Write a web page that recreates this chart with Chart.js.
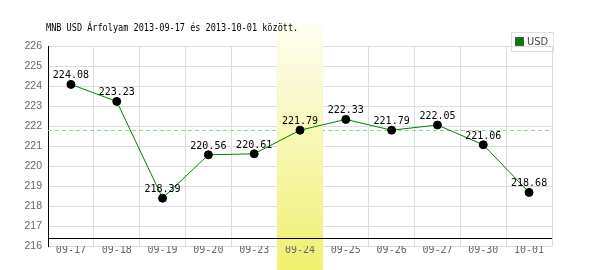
<!DOCTYPE html>
<html>
<head>
<meta charset="utf-8">
<script src="https://cdn.jsdelivr.net/npm/chart.js@4"></script>
<style>
  body { margin: 0; background: #fff; }
  #wrap { width: 600px; height: 270px; }
</style>
</head>
<body>
<div id="wrap"><canvas id="myChart" width="600" height="270"></canvas></div>
<script>
var days = ["09-17", "09-18", "09-19", "09-20", "09-23", "09-24", "09-25", "09-26", "09-27", "09-30", "10-01"];
var usdValues = [224.08, 223.23, 218.39, 220.56, 220.61, 221.79, 222.33, 221.79, 222.05, 221.06, 218.68];
var yTicks = [216, 217, 218, 219, 220, 221, 222, 223, 224, 225, 226];
var highlightDay = "09-24";
var refValue = 221.79;
var titleText = "MNB USD Árfolyam 2013-09-17 és 2013-10-01 között.";

var mono = "'DejaVu Sans Mono', monospace";

// band behind the highlighted day, dashed ref line, black x axis line
var extras = {
  id: "extras",
  beforeDatasetsDraw: function (chart) {
    var ctx = chart.ctx;
    var x = chart.scales.x, y = chart.scales.y;
    var area = chart.chartArea;
    var i = days.indexOf(highlightDay);
    var step = (area.right - area.left) / days.length;
    var x0 = x.getPixelForValue(i) - step / 2;

    ctx.save();
    var ry = y.getPixelForValue(refValue);
    ctx.strokeStyle = "#90d890";
    ctx.lineWidth = 1;
    ctx.setLineDash([4, 3]);
    ctx.beginPath();
    ctx.moveTo(area.left, Math.round(ry) + 0.5);
    ctx.lineTo(area.right, Math.round(ry) + 0.5);
    ctx.stroke();
    ctx.setLineDash([]);

    var g = ctx.createLinearGradient(0, 24, 0, 270);
    g.addColorStop(0, "#fefef2");
    g.addColorStop(1, "#f0f070");
    ctx.fillStyle = g;
    ctx.fillRect(x0, 24, step, 246);

    var by = Math.round(y.getPixelForValue(216.4)) + 0.5;
    ctx.strokeStyle = "#000";
    ctx.beginPath();
    ctx.moveTo(area.left, by);
    ctx.lineTo(area.right, by);
    ctx.stroke();
    ctx.restore();
  },
  afterDatasetsDraw: function (chart) {
    var ctx = chart.ctx;
    var meta = chart.getDatasetMeta(0);
    ctx.save();
    ctx.font = "10px " + mono;
    ctx.fillStyle = "#000";
    ctx.textAlign = "center";
    ctx.textBaseline = "alphabetic";
    meta.data.forEach(function (pt, k) {
      ctx.fillText(usdValues[k].toFixed(2), pt.x, pt.y - 6);
    });

    // title, squeezed a bit to match the narrow original font
    ctx.save();
    ctx.font = "10px " + mono;
    ctx.textAlign = "left";
    ctx.translate(46, 31);
    ctx.scale(0.855, 1);
    ctx.fillText(titleText, 0, 0);
    ctx.restore();

    // legend box
    ctx.strokeStyle = "#dddddd";
    ctx.lineWidth = 1;
    ctx.strokeRect(511.5, 32.5, 42, 19);
    ctx.fillStyle = "#008000";
    ctx.fillRect(516, 38, 7, 7);
    ctx.strokeStyle = "#555";
    ctx.strokeRect(515.5, 37.5, 8, 8);
    ctx.fillStyle = "#444";
    ctx.font = "11px 'Liberation Sans Narrow', 'DejaVu Sans Condensed', sans-serif";
    ctx.textAlign = "left";
    ctx.textBaseline = "middle";
    ctx.fillText("USD", 527, 42);
    ctx.restore();
  }
};

new Chart("myChart", {
  type: "line",
  data: {
    labels: days,
    datasets: [{
      label: "USD",
      data: usdValues,
      borderColor: "#008000",
      borderWidth: 1,
      pointBackgroundColor: "#000",
      pointBorderColor: "#000",
      pointRadius: 4,
      pointBorderWidth: 1,
      tension: 0,
      fill: false
    }]
  },
  options: {
    responsive: false,
    animation: false,
    layout: { padding: { top: 46, right: 48, left: 0, bottom: 0 } },
    plugins: {
      legend: { display: false },
      title: { display: false },
      tooltip: { enabled: false }
    },
    scales: {
      x: {
        offset: true,
        afterFit: function (s) { s.height = 24; },
        grid: { color: "#dcdcdc", drawTicks: false, offset: true },
        border: { display: false },
        ticks: {
          z: 1,
          padding: -2,
          color: "#666",
          font: { family: mono, size: 10 }
        }
      },
      y: {
        min: 216,
        max: 226,
        afterFit: function (s) { s.width = 48; },
        afterBuildTicks: function (s) {
          s.ticks = yTicks.map(function (v) { return { value: v }; });
        },
        grid: { color: "#dcdcdc", drawTicks: false },
        border: { display: true, color: "#000", width: 1 },
        ticks: {
          padding: 6,
          color: "#666",
          font: { family: "'Liberation Sans', sans-serif", size: 10.5 }
        }
      }
    }
  },
  plugins: [extras]
});
</script>
</body>
</html>
